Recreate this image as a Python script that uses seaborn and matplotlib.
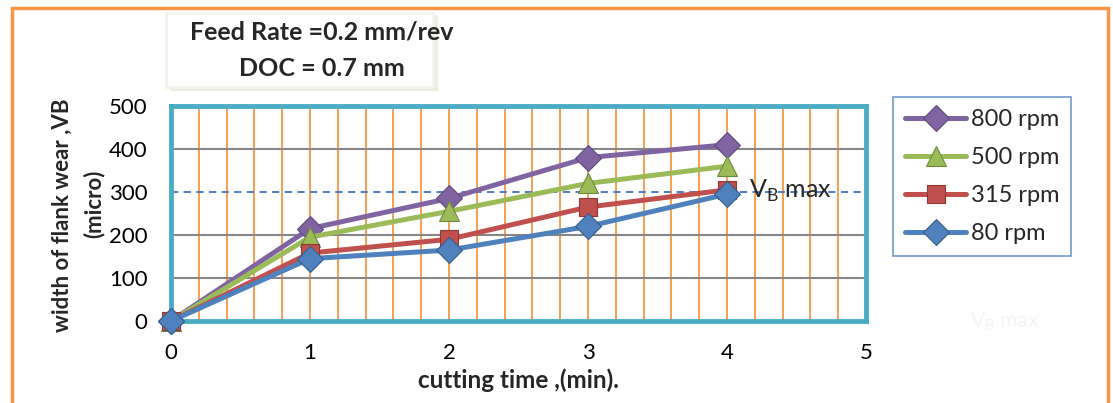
import numpy as np
import pandas as pd
import matplotlib
matplotlib.use("Agg")
import matplotlib.pyplot as plt
import seaborn as sns
from matplotlib.patches import Rectangle

sns.set_theme(style="white")
plt.rcParams['font.family'] = ['Lato', 'DejaVu Sans']

# data
time_min = [0, 1, 2, 3, 4]
series_names = ["800 rpm", "500 rpm", "315 rpm", "80 rpm"]
wear_800 = [0, 215, 285, 380, 410]
wear_500 = [0, 195, 255, 320, 360]
wear_315 = [0, 158, 190, 265, 305]
wear_80 = [0, 145, 165, 220, 295]
vb_max = 300
x_ticks = [0, 1, 2, 3, 4, 5]
y_ticks = [0, 100, 200, 300, 400, 500]

colors = ["#8064a2", "#9bbb59", "#c0504d", "#4f81bd"]
edge_colors = ["#5f4a7a", "#6f8a3c", "#8c3836", "#385d8a"]
markers = ["D", "^", "s", "D"]
msizes = [13, 15, 13, 13]

df = pd.DataFrame({
    "time": time_min * 4,
    "wear": wear_800 + wear_500 + wear_315 + wear_80,
    "speed": sum([[n] * len(time_min) for n in series_names], []),
})

W, H = 1113, 403
fig = plt.figure(figsize=(W / 100, H / 100), dpi=100)
ax = fig.add_axes([171 / W, (H - 321) / H, (866 - 171) / W, (321 - 106) / H])

# grid
for xv in np.arange(0.2, 5.0, 0.2):
    ax.axvline(xv, color="#f79646", lw=1.3, zorder=1)
for yv in [100, 200, 400]:
    ax.axhline(yv, color="#868686", lw=1.5, zorder=1)
ax.axhline(vb_max, color="#4472c4", lw=1.3, ls=(0, (4, 3)), zorder=1.5)

for i, (name, c, ec, m, ms) in enumerate(zip(series_names, colors, edge_colors, markers, msizes)):
    sub = df[df["speed"] == name]
    sns.lineplot(data=sub, x="time", y="wear", ax=ax, color=c, lw=3.6,
                 marker=m, markersize=ms, markeredgecolor=ec, markeredgewidth=0.8,
                 label=name, zorder=5 + i, clip_on=False)

ax.set_xlim(0, 5)
ax.set_ylim(0, 500)
ax.set_xticks(x_ticks)
ax.set_yticks(y_ticks)
ax.tick_params(axis="both", labelsize=16, length=0, colors="black")
ax.tick_params(axis="y", pad=17)
ax.tick_params(axis="x", pad=16)
for sp in ax.spines.values():
    sp.set_color("#4bacc6")
    sp.set_linewidth(3.5)
    sp.set_visible(True)
    sp.set_zorder(4)
ax.set_xlabel("")
ax.set_ylabel("")
fig.text(518 / W, (H - 380) / H, "cutting time ,(min).", fontsize=17.5, fontweight="bold",
         ha="center", va="center")
fig.text(62 / W, (H - 215) / H, "width of flank wear ,VB", fontsize=16, fontweight="bold",
         rotation=90, ha="center", va="center")
fig.text(94 / W, (H - 204) / H, "(micro)", fontsize=16, fontweight="bold",
         rotation=90, ha="center", va="center")

ax.text(4.16, 302, r"V$_\mathregular{B}$ max", fontsize=18, va="center", ha="left", zorder=10)

leg = ax.legend(loc="upper left", bbox_to_anchor=(893 / W, (H - 97) / H),
                bbox_transform=fig.transFigure, frameon=True, fontsize=17,
                handlelength=2.6, handletextpad=0.2, borderpad=0.5, labelspacing=0.72,
                fancybox=False, borderaxespad=0)
leg.get_frame().set_edgecolor("#4f81bd")
leg.get_frame().set_linewidth(1.2)

# title box with soft shadow
fig.patches.append(Rectangle((170 / W, (H - 91) / H), 268 / W, 76 / H,
                             transform=fig.transFigure, facecolor="#e9efdf",
                             edgecolor="none", zorder=0))
fig.patches.append(Rectangle((166 / W, (H - 87) / H), 267 / W, 74 / H,
                             transform=fig.transFigure, facecolor="white",
                             edgecolor="#f1f4ea", lw=2, zorder=0.5))
fig.text(322 / W, (H - 32) / H, "Feed Rate =0.2 mm/rev", fontsize=18, fontweight="bold",
         ha="center", va="center")
fig.text(322 / W, (H - 69) / H, "DOC = 0.7 mm", fontsize=18, fontweight="bold",
         ha="center", va="center")

# faint hidden label
fig.text(1005 / W, (H - 322) / H, r"V$_\mathregular{B}$ max", fontsize=15,
         color="#f5f5f5", ha="center", va="center")

# outer orange frame
fig.patches.append(Rectangle((12 / W, -0.05), (1108 - 12) / W, (H - 8) / H + 0.05,
                             transform=fig.transFigure, facecolor="none",
                             edgecolor="#f79646", lw=2.5, zorder=10))

fig.savefig("out.png", dpi=100)
